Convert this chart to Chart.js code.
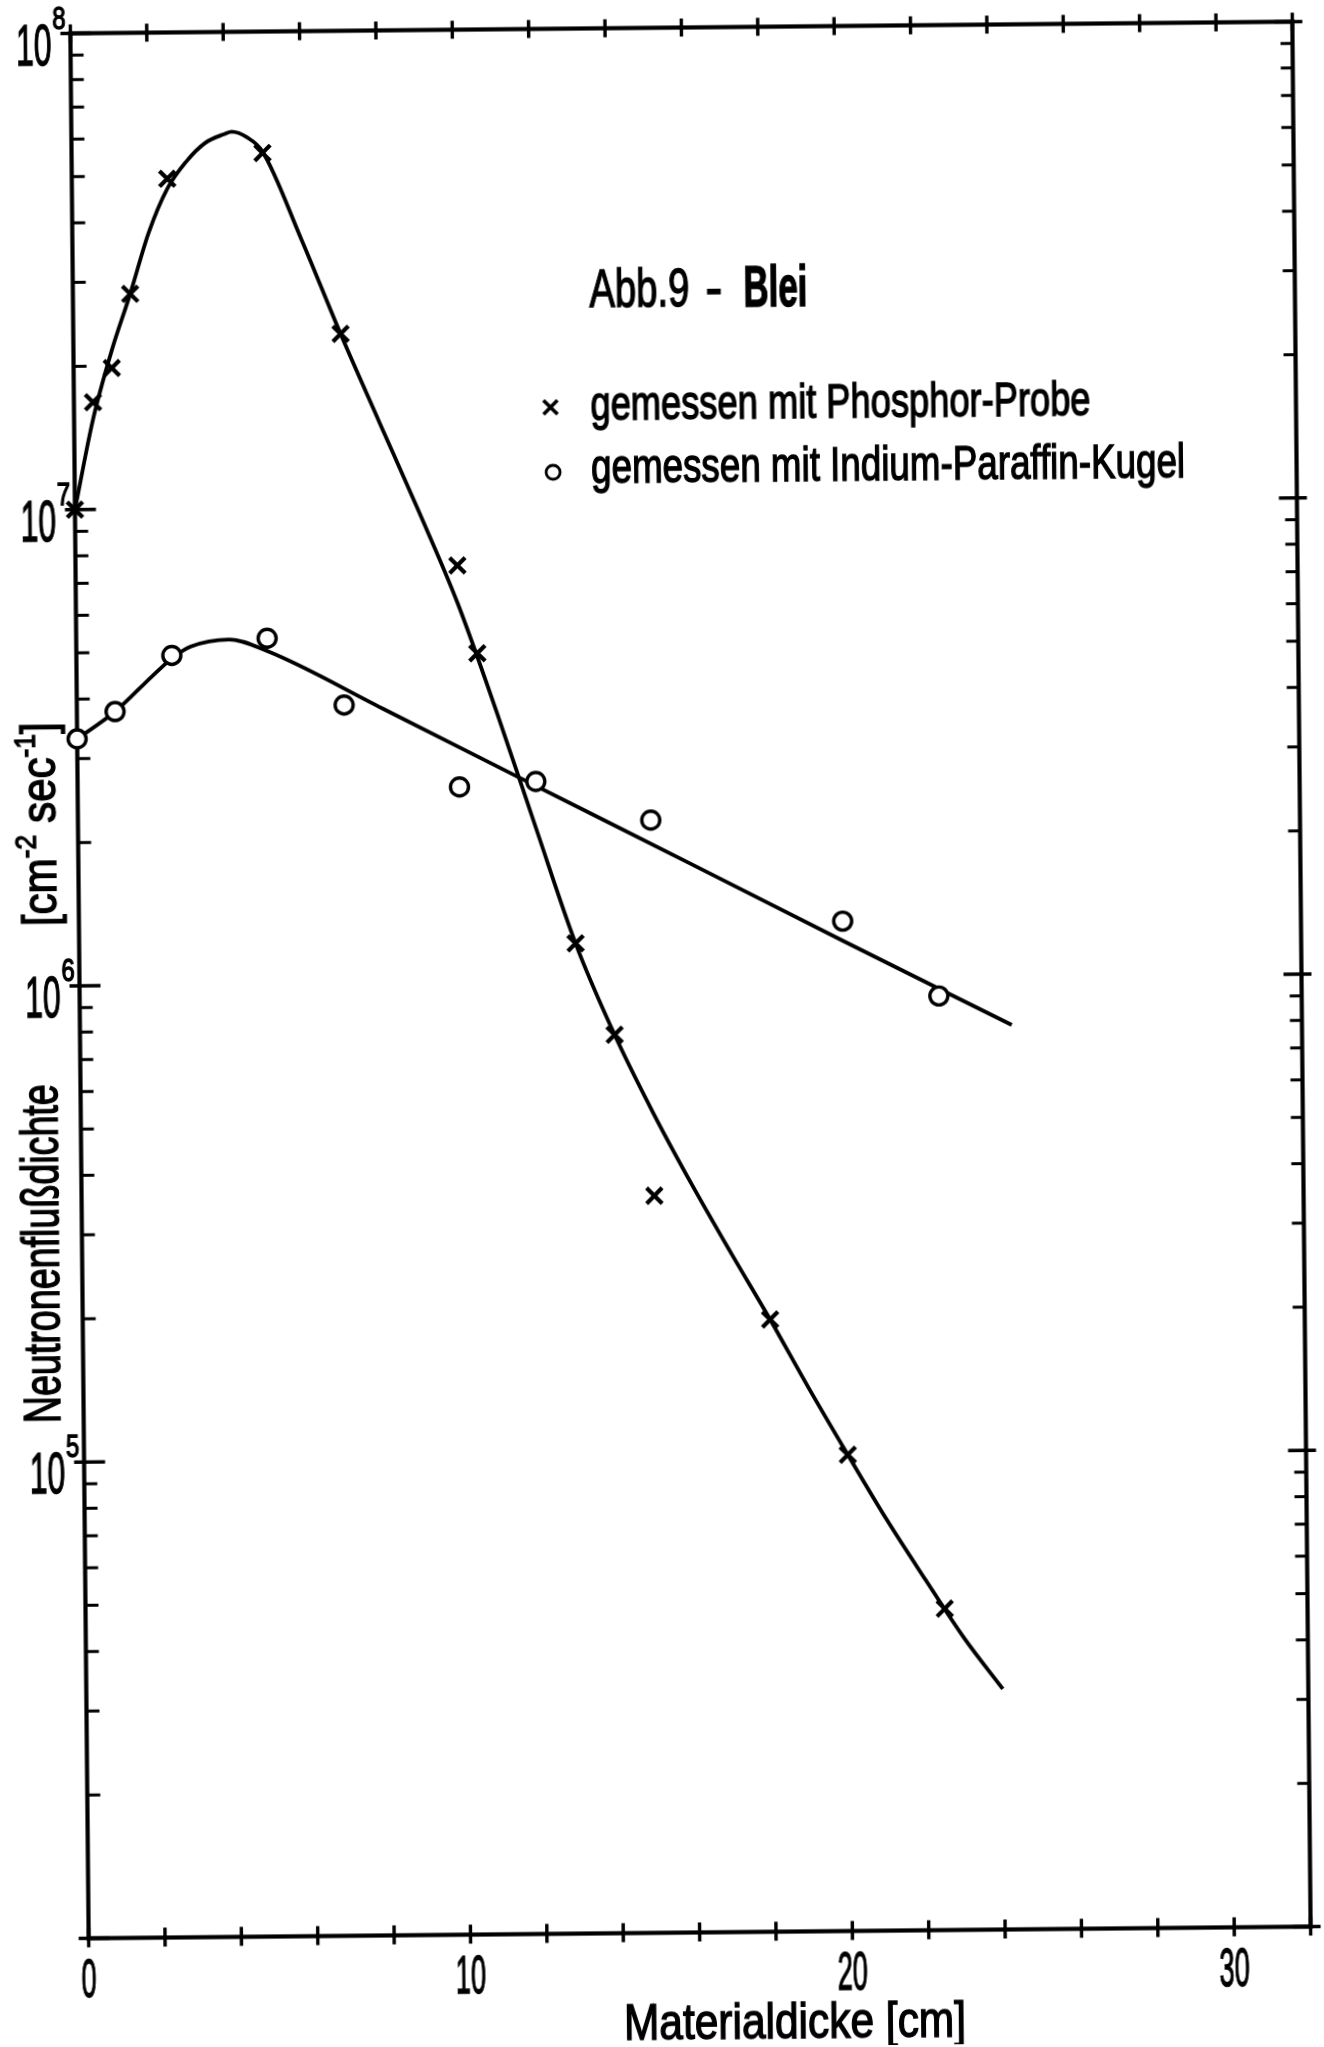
<!DOCTYPE html>
<html>
<head>
<meta charset="utf-8">
<script src="https://cdn.jsdelivr.net/npm/chart.js@4/dist/chart.umd.min.js"></script>
<style>
  html, body { margin: 0; padding: 0; background: #fff; }
  #wrap { width: 1324px; height: 2047px; overflow: hidden; }
  /* the scanned page sits slightly askew */
  #c { display: block; transform: rotate(-0.55deg); transform-origin: 690px 980px; }
</style>
</head>
<body>
<div id="wrap"><canvas id="c" width="1324" height="2047"></canvas></div>
<script>
// measured points, x = Materialdicke [cm], y = Neutronenflussdichte [cm^-2 sec^-1]
const phosphorX = [0, 0.5, 1, 1.5, 2.5, 5, 7, 10, 10.5, 13, 14, 15, 18, 20, 22.5];
const phosphorY = [1.0e7, 1.68e7, 1.98e7, 2.83e7, 4.93e7, 5.56e7, 2.31e7, 7.5e6, 4.9e6, 1.2e6, 7.7e5, 3.53e5, 1.93e5, 1.0e5, 4.73e4];
const indiumX = [0, 1, 2.5, 5, 7, 10, 12, 15, 20, 22.5];
const indiumY = [3.3e6, 3.76e6, 4.92e6, 5.32e6, 3.84e6, 2.57e6, 2.63e6, 2.17e6, 1.32e6, 9.15e5];

// hand drawn curves through the points
const phosphorFitX = [0, 0.5, 1, 1.5, 2, 2.5, 3, 3.5, 4, 4.2, 4.6, 5, 6, 7, 8, 9, 10, 11, 12, 13, 14, 15, 16, 17, 18, 19, 20, 21, 22, 23, 24];
const phosphorFitY = [1.0e7, 1.55e7, 2.15e7, 2.83e7, 3.8e7, 4.7e7, 5.35e7, 5.85e7, 6.1e7, 6.17e7, 6.0e7, 5.6e7, 3.65e7, 2.31e7, 1.5e7, 9.77e6, 6.24e6, 3.67e6, 2.09e6, 1.2e6, 7.7e5, 5.25e5, 3.7e5, 2.66e5, 1.93e5, 1.38e5, 1.0e5, 7.3e4, 5.45e4, 4.1e4, 3.2e4];
const indiumFitX = [0, 1, 2, 2.5, 3, 4, 5, 8, 11.5, 16, 20, 24.4];
const indiumFitY = [3.3e6, 3.76e6, 4.47e6, 4.85e6, 5.13e6, 5.3e6, 5.0e6, 3.77e6, 2.7e6, 1.76e6, 1.2e6, 7.93e5];

const seriesNames = ['gemessen mit Phosphor-Probe', 'gemessen mit Indium-Paraffin-Kugel'];
const figTitle = 'Abb.9';
const figMaterial = 'Blei';
const xTitle = 'Materialdicke [cm]';
const yTitle = 'Neutronenflußdichte';

const xTicks = [0, 2, 4, 6, 8, 10, 12, 14, 16, 18, 20, 22, 24, 26, 28, 30, 32];
const xLabelVals = [0, 10, 20, 30];
const xLabels = ['0', '10', '20', '30'];
const yDecades = [1e4, 1e5, 1e6, 1e7, 1e8];
const yMinorSteps = [2, 3, 4, 5, 6, 7, 8, 9];
const yLabelVals = [1e5, 1e6, 1e7, 1e8];
const yLabelExp = ['5', '6', '7', '8'];

const FONT = '"Liberation Sans", Arial, sans-serif';

function pts(xs, ys) {
  return xs.map((x, i) => ({ x: x, y: ys[i] }));
}

// text squeezed to the narrow drafting letters of the original
function txt(ctx, s, x, y, size, o) {
  o = o || {};
  ctx.save();
  ctx.font = (o.bold ? 'bold ' : '') + size + 'px ' + FONT;
  ctx.textBaseline = 'alphabetic';
  const w = ctx.measureText(s).width;
  const sx = o.w ? o.w / w : (o.sx || 1);
  ctx.translate(x, y);
  if (o.rot) ctx.rotate(o.rot);
  ctx.scale(sx, 1);
  let ax = 0;
  if (o.align === 'center') ax = -w / 2;
  if (o.align === 'right') ax = -w;
  ctx.fillText(s, ax, 0);
  ctx.lineWidth = 1.4;
  ctx.strokeText(s, ax, 0);
  ctx.restore();
  return w * sx;
}

// several runs (normal / superscript) fitted to one total length
function runs(ctx, parts, x, y, total, rot) {
  ctx.save();
  let sum = 0;
  parts.forEach(p => {
    ctx.font = p.size + 'px ' + FONT;
    p.w = ctx.measureText(p.t).width;
    sum += p.w;
  });
  ctx.translate(x, y);
  ctx.rotate(rot || 0);
  ctx.scale(total / sum, 1);
  ctx.lineWidth = 1.4;
  let cx = 0;
  parts.forEach(p => {
    ctx.font = p.size + 'px ' + FONT;
    ctx.fillText(p.t, cx, -(p.up || 0));
    ctx.strokeText(p.t, cx, -(p.up || 0));
    cx += p.w;
  });
  ctx.restore();
}

const framePlugin = {
  id: 'frame',
  beforeDatasetsDraw(chart) {
    const ctx = chart.ctx;
    const a = chart.chartArea;
    const xs = chart.scales.x, ys = chart.scales.y;
    ctx.save();
    ctx.strokeStyle = '#000';
    ctx.lineCap = 'butt';
    ctx.lineWidth = 4.2;
    ctx.strokeRect(a.left, a.top, a.right - a.left, a.bottom - a.top);

    ctx.lineWidth = 3.4;
    ctx.beginPath();
    xTicks.forEach(v => {
      const px = xs.getPixelForValue(v);
      ctx.moveTo(px, a.bottom - 10); ctx.lineTo(px, a.bottom + 9);
      ctx.moveTo(px, a.top - 9); ctx.lineTo(px, a.top + 9);
    });
    yDecades.forEach(v => {
      const py = ys.getPixelForValue(v);
      ctx.moveTo(a.left - 10, py); ctx.lineTo(a.left + 21, py);
      ctx.moveTo(a.right - 18, py); ctx.lineTo(a.right + 10, py);
    });
    ctx.stroke();

    ctx.lineWidth = 3;
    ctx.beginPath();
    yDecades.slice(0, -1).forEach(d => {
      yMinorSteps.forEach(m => {
        const py = ys.getPixelForValue(d * m);
        ctx.moveTo(a.left, py); ctx.lineTo(a.left + 13, py);
        ctx.moveTo(a.right - 12, py); ctx.lineTo(a.right, py);
      });
    });
    ctx.stroke();
    ctx.restore();
  },
  afterDraw(chart) {
    const ctx = chart.ctx;
    const a = chart.chartArea;
    const xs = chart.scales.x, ys = chart.scales.y;
    ctx.save();
    ctx.fillStyle = '#000';
    ctx.strokeStyle = '#000';

    // x tick labels
    xLabelVals.forEach((v, i) => {
      txt(ctx, xLabels[i], xs.getPixelForValue(v), a.bottom + 58, 54, { sx: 0.5, align: 'center' });
    });
    // y tick labels 10^n
    yLabelVals.forEach((v, i) => {
      const py = ys.getPixelForValue(v);
      txt(ctx, '10', a.left - 19, py + 31, 57, { sx: 0.56, align: 'right' });
      txt(ctx, yLabelExp[i], a.left - 18, py - 5, 32, { sx: 0.75 });
    });

    // axis titles
    txt(ctx, xTitle, 614, 2039, 50, { w: 342 });
    txt(ctx, yTitle, 56, 1417, 52, { w: 339, rot: -Math.PI / 2 });
    runs(ctx, [
      { t: '[cm', size: 48 },
      { t: '-2', size: 30, up: 20 },
      { t: ' sec', size: 48 },
      { t: '-1', size: 30, up: 20 },
      { t: ']', size: 48 }
    ], 57, 920, 204, -Math.PI / 2);

    // figure caption
    txt(ctx, figTitle, 596, 306, 54, { w: 100 });
    txt(ctx, '-', 712, 306, 54, { w: 17 });
    txt(ctx, figMaterial, 750, 307, 57, { w: 64, bold: true });

    // legend
    ctx.lineWidth = 3.6;
    ctx.beginPath();
    ctx.moveTo(549, 399); ctx.lineTo(563, 413);
    ctx.moveTo(563, 399); ctx.lineTo(549, 413);
    ctx.stroke();
    ctx.lineWidth = 2.8;
    ctx.beginPath();
    ctx.arc(558, 471, 7, 0, Math.PI * 2);
    ctx.stroke();
    txt(ctx, seriesNames[0], 596, 419, 48, { w: 500 });
    txt(ctx, seriesNames[1], 596, 482, 48, { w: 594 });
    ctx.restore();
  }
};

new Chart(document.getElementById('c'), {
  type: 'scatter',
  data: {
    datasets: [
      {
        label: seriesNames[0] + ' (Kurve)',
        data: pts(phosphorFitX, phosphorFitY),
        showLine: true,
        pointRadius: 0,
        borderColor: '#000',
        borderWidth: 3.8,
        cubicInterpolationMode: 'monotone',
        clip: false,
        order: 4
      },
      {
        label: seriesNames[1] + ' (Kurve)',
        data: pts(indiumFitX, indiumFitY),
        showLine: true,
        pointRadius: 0,
        borderColor: '#000',
        borderWidth: 3.8,
        cubicInterpolationMode: 'monotone',
        clip: false,
        order: 3
      },
      {
        label: seriesNames[0],
        data: pts(phosphorX, phosphorY),
        pointStyle: 'crossRot',
        pointRadius: 11,
        pointBorderWidth: 4.2,
        borderColor: '#000',
        backgroundColor: '#000',
        clip: false,
        order: 1
      },
      {
        label: seriesNames[1],
        data: pts(indiumX, indiumY),
        pointStyle: 'circle',
        pointRadius: 9,
        pointBorderWidth: 3.4,
        borderColor: '#000',
        backgroundColor: '#fff',
        clip: false,
        order: 2
      }
    ]
  },
  options: {
    responsive: false,
    animation: false,
    devicePixelRatio: 1,
    layout: { padding: { left: 79.5, top: 27.5, right: 22.5, bottom: 114.5 } },
    scales: {
      x: { type: 'linear', min: 0, max: 32, display: false },
      y: { type: 'logarithmic', min: 1e4, max: 1e8, display: false }
    },
    plugins: {
      legend: { display: false },
      tooltip: { enabled: false }
    },
    events: []
  },
  plugins: [framePlugin]
});
</script>
</body>
</html>
